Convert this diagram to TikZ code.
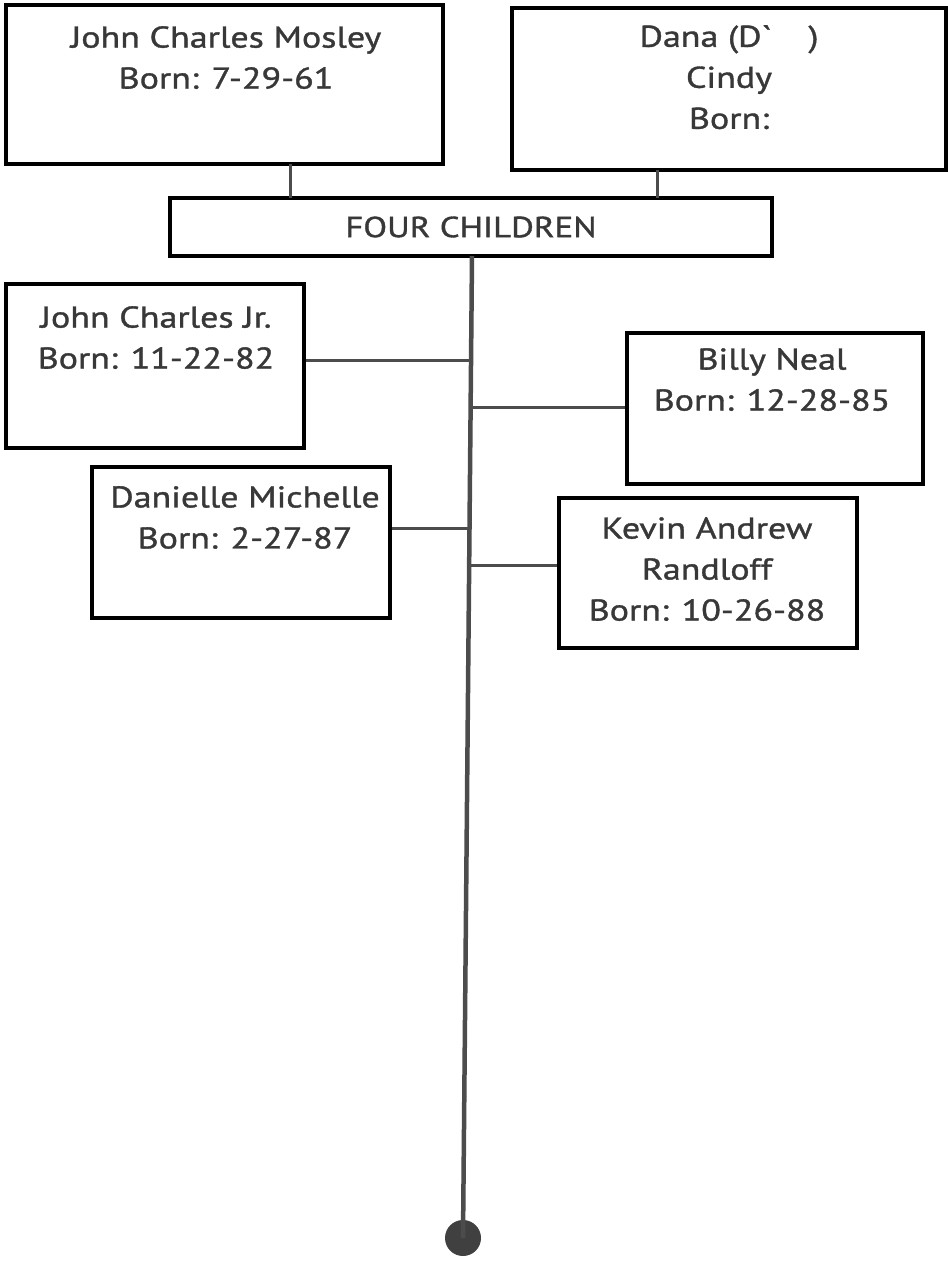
\documentclass[tikz,border=0pt]{standalone}
\usepackage{fontspec}
\setmainfont{PT Sans}[FakeStretch=1.2, FakeBold=1.2]
\begin{document}
\begin{tikzpicture}[x=1pt,y=-1pt,
  box/.style={draw=black, line width=4pt, fill=white, inner sep=0pt},
  txt/.style={anchor=north, align=center, text=black!78, font=\fontsize{30}{41}\selectfont, inner sep=0pt},
  link/.style={draw=black!70, line width=3pt}]
\useasboundingbox (0,0) rectangle (948,1262);

% parents
\node[box, minimum width=437, minimum height=159] (jcm) at (224.5,84.5) {};
\node[txt] (jcmt) at (226,26) {John Charles Mosley\\Born: 7-29-61};
\node[box, minimum width=434, minimum height=162] (dana) at (729,89) {};
\node[txt] (danat) at (729,25) {Dana (D\textasciigrave\ \ \ \ )\\Cindy\\Born:};

% children header
\node[box, minimum width=602, minimum height=58, font=\fontsize{29}{30}\selectfont, text=black!78] (fc) at (471,227) {FOUR CHILDREN};
\draw[link] (290,164) -- (290,198);
\draw[link] (657,170) -- (657,198);

% trunk and end dot
\coordinate (top) at (472,256);
\node[circle, fill=black!75, minimum size=36, inner sep=0pt] (dot) at (463,1238) {};
\draw[black!70, line width=4.5pt] (top) -- (dot.center);

% children
\node[box, minimum width=298, minimum height=164] (jcj) at (155,366) {};
\node[txt] (jcjt) at (156,306) {John Charles Jr.\\Born: 11-22-82};
\node[box, minimum width=296, minimum height=151] (billy) at (775,408) {};
\node[txt] (billyt) at (772,348) {Billy Neal\\Born: 12-28-85};
\node[box, minimum width=298, minimum height=151] (dan) at (241,542) {};
\node[txt] (dant) at (245,486) {Danielle Michelle\\Born: 2-27-87};
\node[box, minimum width=298, minimum height=150] (kev) at (708,573) {};
\node[txt] (kevt) at (707,517) {Kevin Andrew\\Randloff\\Born: 10-26-88};

% branches to trunk
\coordinate (b1) at (471,360);
\coordinate (b2) at (471,407);
\coordinate (b3) at (470,528);
\coordinate (b4) at (470,565);
\draw[link] (jcj.east |- b1) -- (b1);
\draw[link] (b2) -- (billy.west |- b2);
\draw[link] (dan.east |- b3) -- (b3);
\draw[link] (b4) -- (kev.west |- b4);
\end{tikzpicture}
\end{document}
